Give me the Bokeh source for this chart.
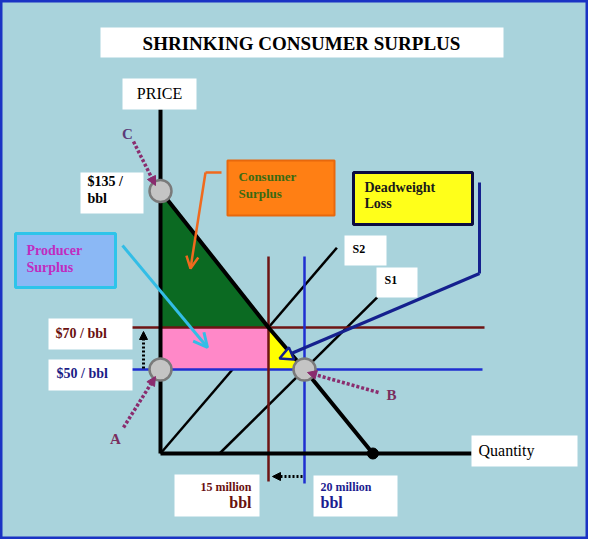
from bokeh.plotting import figure
from bokeh.models import Range1d, Arrow, NormalHead, OpenHead
from bokeh.core.properties import value
from bokeh.embed import file_html
from bokeh.resources import INLINE

# ---------------- data ----------------
title = "SHRINKING CONSUMER SURPLUS"
prices = [135, 70, 50]                 # $/bbl : choke price C, new price, old price
price_labels = [["$135 /", "bbl"], ["$70 / bbl"], ["$50 / bbl"]]
quantities = [15, 20]                  # million bbl : new and old quantity
quantity_labels = [["15 million", "bbl"], ["20 million", "bbl"]]
demand_q = [0, 15, 20, 29.5]
demand_p = [135, 70, 50, 10]
s1_q = [8.2, 30.1]
s1_p = [10, 84.3]
s2_q = [0, 24.5]
s2_p = [10, 108]
axis_floor = 10                        # price at the drawn horizontal axis (diagram not to scale)
point_names = ["C", "A", "B"]

# ---------------- layout helpers (picture pixels -> diagram units) ----------------
def X(px):
    return (px - 160) / 7.2

def Y(py):
    return axis_floor + (453 - py) / 2.1

SERIF = value("Liberation Serif")
BG = "#a9d3dc"

p = figure(width=588, height=539, x_range=Range1d(X(0), X(588)), y_range=Range1d(Y(539), Y(0)),
           output_backend="svg", toolbar_location=None, x_axis_location=None, y_axis_location=None,
           min_border=0, background_fill_color=BG, border_fill_color="white",
           outline_line_color="#1a33c4", outline_line_width=4)
p.grid.visible = False


def box(l, t, r, b, fill="white", line=None, lw=0):
    p.quad(left=[X(l)], right=[X(r)], top=[Y(t)], bottom=[Y(b)], fill_color=fill,
           line_color=line, line_width=lw)


def txt(x, y, s, size, color="black", bold=True, align="left"):
    p.text(x=[X(x)], y=[Y(y)], text=[s], text_font=SERIF, text_font_size=f"{size}px",
           text_font_style="bold" if bold else "normal", text_color=color,
           text_align=align, text_baseline="middle")


def arrow(x0, y0, x1, y1, color, lw, head, dash="solid"):
    p.add_layout(Arrow(x_start=X(x0), y_start=Y(y0), x_end=X(x1), y_end=Y(y1),
                       line_color=color, line_width=lw, line_dash=dash, end=head))


p_choke, p_new, p_old = prices
q_new, q_old = quantities

# S2 lies underneath the surplus areas
p.line(s2_q, s2_p, line_color="black", line_width=2.5)

# surplus areas
q_at_new = demand_q[1]
p.patch([0, 0, q_at_new], [p_choke, p_new, p_new], fill_color="#0b6a22", line_color=None)
p.quad(left=[0], right=[q_new], top=[p_new], bottom=[p_old], fill_color="#ff88c8", line_color=None)
p.patch([q_new, q_new, q_old], [p_new, p_old, p_old], fill_color="#ffff00", line_color=None)

# S1 supply
p.line(s1_q, s1_p, line_color="black", line_width=2.5)

# price lines and quantity lines
p.line([X(127), X(484)], [p_new, p_new], line_color="#6e1414", line_width=2.5)
p.line([X(128), X(482)], [p_old, p_old], line_color="#1f2ed0", line_width=2.5)
p.line([q_new, q_new], [Y(481), Y(256)], line_color="#6e1414", line_width=2.5)
p.line([q_old, q_old], [Y(483), Y(256)], line_color="#1f2ed0", line_width=2.5)

# demand
p.line(demand_q, demand_p, line_color="black", line_width=4)

# axes
p.line([0, 0], [axis_floor, Y(109)], line_color="black", line_width=4)
p.line([0, X(471)], [axis_floor, axis_floor], line_color="black", line_width=4)
p.scatter([demand_q[-1]], [axis_floor], size=11, fill_color="black", line_color="black")

# marked points C, A, B
p.scatter([0, 0, q_old], [p_choke, p_old, p_old], size=22, fill_color="#c4c4c4",
          line_color="#7a7a7a", line_width=2.5)

# dotted pointers
PUR = "#8a2c6e"
arrow(133, 141, 155, 185, PUR, 3.5, NormalHead(size=9, fill_color=PUR, line_color=PUR), "3 2")
arrow(123, 427, 155, 376, PUR, 3.5, NormalHead(size=9, fill_color=PUR, line_color=PUR), "3 2")
arrow(378, 392, 307, 372, PUR, 3.5, NormalHead(size=9, fill_color=PUR, line_color=PUR), "3 2")
txt(127, 133, point_names[0], 15, "#5b3a78", align="center")
txt(115, 438, point_names[1], 15, "#7a2e5e", align="center")
txt(391, 394, point_names[2], 15, "#7a2e5e", align="center")

# black dotted shift arrows
arrow(143, 368, 143, 331, "black", 3, NormalHead(size=8, fill_color="black"), "2 2")
arrow(302, 476, 272, 476, "black", 3, NormalHead(size=8, fill_color="black"), "2 2")

# title and axis boxes
box(100, 27, 503, 57)
txt(301, 43, title, 19, align="center")
box(122, 78, 196, 109)
txt(159, 93, "PRICE", 16, bold=False, align="center")
box(471, 435, 577, 466)
txt(478, 450, "Quantity", 16, bold=False)

# price label boxes
box(80, 172, 143, 213)
txt(87, 181, price_labels[0][0], 14)
txt(87, 198, price_labels[0][1], 14)
box(48, 318, 132, 349)
txt(55, 333, price_labels[1][0], 14, "#6a1010")
box(48, 359, 132, 390)
txt(56, 373, price_labels[2][0], 14, "#1c1c86")

# quantity label boxes
box(174, 474, 259, 516)
txt(251, 486, quantity_labels[0][0], 12, "#6a1010", align="right")
txt(251, 502, quantity_labels[0][1], 16, "#6a1010", align="right")
box(313, 475, 397, 516)
txt(320, 486, quantity_labels[1][0], 12, "#1c1c90")
txt(320, 502, quantity_labels[1][1], 16, "#1c1c90")

# supply labels
box(344, 235, 386, 265)
txt(352, 248, "S2", 12)
box(376, 267, 417, 297)
txt(384, 279, "S1", 12)

# Producer surplus callout
box(15, 233, 115, 287, fill="#8bb8f5", line="#2ec4ea", lw=3)
txt(26, 250, "Producer", 14, "#c02cc0")
txt(26, 267, "Surplus", 14, "#c02cc0")
arrow(122, 245, 207, 347, "#33bde6", 3, OpenHead(size=14, line_color="#33bde6", line_width=3))

# Consumer surplus callout
box(227, 160, 334, 215, fill="#ff7f14", line="#e8680c", lw=2)
txt(238, 176, "Consumer", 13, "#3a6a12")
txt(238, 193, "Surplus", 13, "#3a6a12")
p.line([X(221), X(205)], [Y(172), Y(172)], line_color="#f06a1e", line_width=2.5)
arrow(205, 172, 190, 268, "#f06a1e", 2.5, OpenHead(size=12, line_color="#f06a1e", line_width=2.5))

# Deadweight loss callout
box(353, 172, 472, 224, fill="#ffff1a", line="#0c0c40", lw=3)
txt(364, 187, "Deadweight", 14, "#1a1a1a")
txt(364, 203, "Loss", 14, "#1a1a1a")
NAVY = "#15208e"
p.line([X(479), X(479)], [Y(182), Y(273)], line_color=NAVY, line_width=3)
arrow(479, 273, 279, 358, NAVY, 3, NormalHead(size=13, fill_color="#ffff00", line_color=NAVY, line_width=2.5))

open("out.html", "w").write(file_html(p, INLINE))
